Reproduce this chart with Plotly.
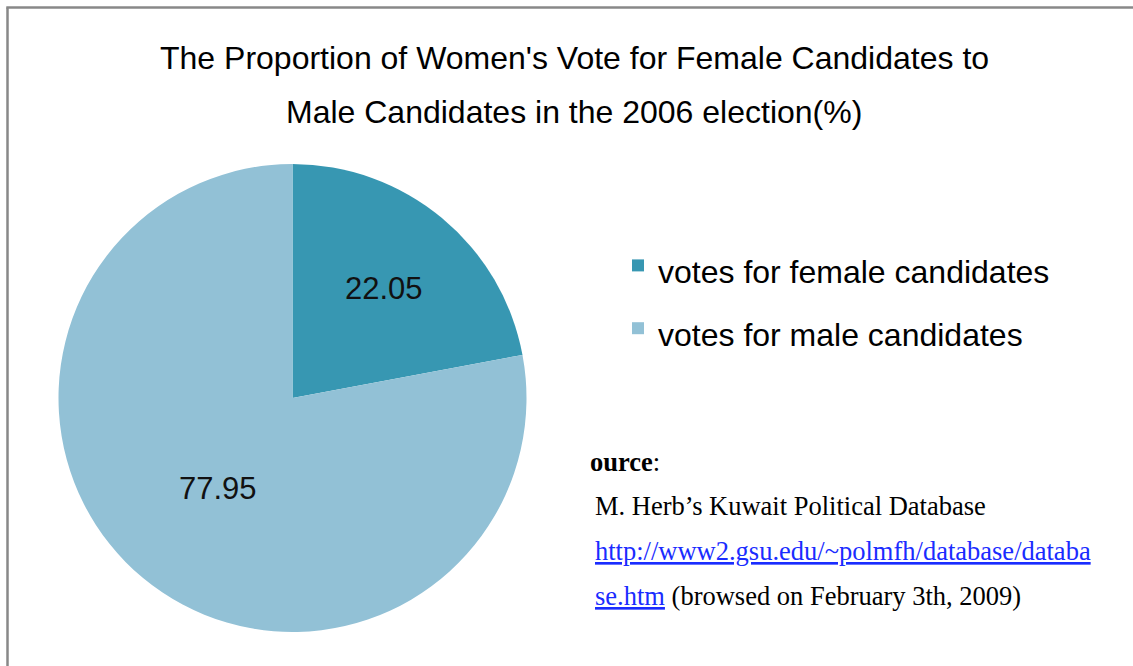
import plotly.graph_objects as go

# ---- data ----
labels = ["votes for female candidates", "votes for male candidates"]
values = [22.05, 77.95]
colors = ["#3797B2", "#92C1D6"]
title_lines = [
    "The Proportion of Women's Vote for Female Candidates to",
    "Male Candidates in the 2006 election(%)",
]
source_lines = [
    "<b>ource</b>:",
    "M. Herb\u2019s Kuwait Political Database",
    "<span style='color:#1a2cff'><u>http://www2.gsu.edu/~polmfh/database/databa</u></span>",
    "<span style='color:#1a2cff'><u>se.htm</u></span> (browsed on February 3th, 2009)",
]

W, H = 1133, 666

fig = go.Figure()
fig.add_trace(go.Pie(
    labels=[f"<span style='font-size:32px'>{l}</span>" for l in labels],
    values=values,
    sort=False,
    direction="clockwise",
    rotation=0,
    marker=dict(colors=colors, line=dict(width=0)),
    texttemplate="%{value}",
    textposition="inside",
    insidetextorientation="horizontal",
    textfont=dict(family="Liberation Sans, Arial, sans-serif", size=31, color="#111111"),
    domain=dict(x=[(292.5 - 234) / W, (292.5 + 234) / W],
                y=[(268 - 234) / H, (268 + 234) / H]),
    hoverinfo="label+value",
))

annotations = []
# title lines
for txt, yc in zip(title_lines, [58, 112]):
    annotations.append(dict(
        text=txt, x=574 / W, y=1 - yc / H, xref="paper", yref="paper",
        xanchor="center", yanchor="middle", showarrow=False,
        font=dict(family="Liberation Sans, Arial, sans-serif", size=32, color="#000000"),
    ))
# source lines
for txt, xl, yc in zip(source_lines, [588, 593, 593, 593], [462, 506, 551, 596]):
    annotations.append(dict(
        text=txt, x=xl / W, y=1 - yc / H, xref="paper", yref="paper",
        xanchor="left", yanchor="middle", showarrow=False,
        font=dict(family="Liberation Serif, Times New Roman, serif", size=26.5, color="#000000"),
    ))

fig.update_layout(
    width=W, height=H,
    margin=dict(l=0, r=0, t=0, b=0),
    paper_bgcolor="white",
    plot_bgcolor="white",
    showlegend=True,
    legend=dict(
        x=618 / W, y=1 - 229 / H, xanchor="left", yanchor="top",
        font=dict(family="Liberation Sans, Arial, sans-serif", size=46, color="#000000"),
        bgcolor="rgba(0,0,0,0)", borderwidth=0,
    ),
    annotations=annotations,
    shapes=[
        dict(type="line", xref="paper", yref="paper",
             x0=7.5 / W, x1=7.5 / W, y0=0, y1=1 - 7.5 / H,
             line=dict(color="#888888", width=2.5)),
        dict(type="line", xref="paper", yref="paper",
             x0=6.3 / W, x1=1, y0=1 - 7.5 / H, y1=1 - 7.5 / H,
             line=dict(color="#888888", width=2.5)),
    ],
)

fig.write_html("out.html", config={"displayModeBar": False},
               post_script="document.body.style.margin='0px';")
